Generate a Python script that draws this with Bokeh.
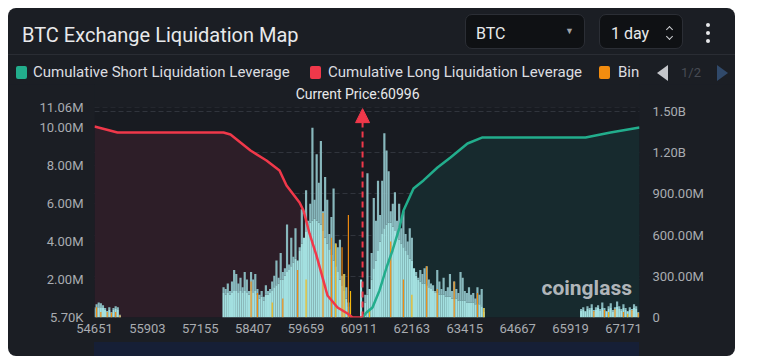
from bokeh.plotting import figure
from bokeh.models import (Range1d, LinearAxis, FixedTicker, Grid, Label, BoxAnnotation,
                          Arrow, NormalHead, ColumnDataSource, Div)
from bokeh.layouts import column
from bokeh.embed import file_html
from bokeh.resources import INLINE

# ---------------- data ----------------
current_price = 60996
x_ticks = [54651, 55903, 57155, 58407, 59659, 60911, 62163, 63415, 64667, 65919, 67171]
x_start, x_end = 54651, 67551
first_bin = 54651
bin_size = 50.08

left_ticks = [0.0057, 2, 4, 6, 8, 10, 11.06]            # millions
left_labels = ["5.70K", "2.00M", "4.00M", "6.00M", "8.00M", "10.00M", "11.06M"]
right_ticks = [0, 0.3, 0.6, 0.9, 1.2, 1.5]               # billions
right_labels = ["0", "300.00M", "600.00M", "900.00M", "1.20B", "1.50B"]
left_max, right_max = 11.06, 1.529

legend_labels = ["Cumulative Short Liquidation Leverage", "Cumulative Long Liquidation Leverage", "Bin"]

# liquidation leverage per price bin (millions): total and lower (cyan) part
seg_a_start = 0
seg_a_total = [0.55, 0.70, 0.80, 0.75, 0.65, 0.50, 0.35, 0.55, 0.30, 0.50, 0.60, 0.55, 0.15]
seg_a_base = [0.45, 0.50, 0.55, 0.55, 0.50, 0.40, 0.30, 0.40, 0.25, 0.40, 0.45, 0.40, 0.10]

seg_b_start = 61
seg_b_total = [1.6, 1.5, 1.8, 1.4, 1.9, 2.5, 2.3, 1.8, 2.1, 1.6,
               2.4, 2.0, 1.4, 2.4, 2.0, 2.3, 1.5, 1.2, 1.4, 1.1,
               1.7, 1.4, 1.5, 1.9, 2.2, 3.0, 2.1, 3.4, 2.4, 2.6,
               4.9, 2.8, 4.2, 3.2, 4.7, 3.0, 3.7, 5.7, 4.2, 6.7,
               5.1, 6.0, 10.0, 6.2, 8.6, 7.1, 9.3, 5.6, 7.4, 6.2,
               4.4, 5.3, 6.8, 3.9, 3.7, 4.1, 2.2, 2.3, 1.6, 0.8,
               0.0, 0.0, 0.0, 0.0, 0.0, 2.0]
seg_b_base = [1.3, 1.2, 1.3, 1.2, 1.3, 1.4, 1.4, 1.3, 1.4, 1.3,
              1.4, 1.3, 1.2, 1.4, 1.3, 1.4, 1.2, 1.0, 1.1, 0.9,
              1.2, 1.2, 1.3, 1.4, 1.6, 1.7, 1.8, 2.0, 2.0, 2.2,
              2.4, 2.5, 2.7, 2.9, 3.1, 3.0, 3.5, 3.9, 4.2, 4.5,
              4.8, 5.0, 5.1, 5.2, 5.1, 5.0, 4.9, 4.6, 4.2, 3.9,
              3.6, 3.3, 3.0, 2.7, 2.4, 2.0, 1.7, 1.4, 1.0, 0.6,
              0.0, 0.0, 0.0, 0.0, 0.0, 2.0]

seg_c_start = 128
seg_c_total = [1.2, 7.6, 1.5, 3.4, 6.3, 5.1, 7.2, 5.4, 7.2, 9.7,
               8.8, 7.7, 5.6, 6.0, 6.6, 5.1, 6.0, 4.7, 5.6, 4.4,
               4.0, 4.7, 4.2, 2.6, 2.4, 2.1, 2.5, 2.3, 2.6, 2.7,
               2.0, 1.8, 1.7, 1.4, 2.5, 1.9, 1.5, 2.1, 1.4, 1.6,
               2.3, 1.4, 1.9, 1.5, 1.3, 2.4, 2.1, 1.4, 1.3, 1.6,
               1.2, 1.3, 1.0, 1.6, 1.2, 1.5, 0.5]
seg_c_base = [0.8, 1.2, 1.5, 2.0, 2.6, 3.0, 3.5, 4.0, 4.4, 4.7,
              4.9, 5.0, 5.0, 4.8, 4.6, 4.3, 4.1, 3.9, 3.7, 3.5,
              3.3, 3.1, 3.0, 2.6, 2.2, 2.0, 1.9, 1.8, 1.8, 1.7,
              1.6, 1.5, 1.4, 1.3, 1.3, 1.2, 1.2, 1.2, 1.1, 1.1,
              1.1, 1.0, 1.0, 1.0, 0.9, 0.9, 0.9, 0.9, 0.8, 0.8,
              0.8, 0.8, 0.7, 0.7, 0.7, 0.6, 0.3]

seg_d_start = 230
seg_d_total = [0.45, 0.55, 0.35, 0.60, 0.50, 0.70, 0.40, 0.55, 0.65, 0.45,
               0.80, 0.50, 0.35, 0.60, 0.75, 0.40, 0.55, 0.85, 0.60, 0.45,
               0.70, 0.50, 0.35, 0.55, 0.45, 0.70, 0.60, 0.30]
seg_d_base = [0.35, 0.40, 0.30, 0.45, 0.40, 0.50, 0.30, 0.40, 0.50, 0.35,
              0.55, 0.40, 0.30, 0.45, 0.50, 0.30, 0.40, 0.60, 0.45, 0.35,
              0.50, 0.40, 0.30, 0.40, 0.35, 0.50, 0.45, 0.25]

binance_bins = [1, 3, 6, 8, 10, 12, 74, 77, 89, 96, 108, 112, 117, 120,
                140, 146, 157, 162, 170, 181, 236, 241, 246, 250, 254, 257]
binance_vals = [0.55, 0.30, 0.30, 0.25, 0.30, 0.12, 1.9, 1.3, 1.0, 2.5, 5.5, 4.2, 3.7, 5.4,
                4.0, 2.0, 2.7, 1.5, 1.9, 1.3, 0.35, 0.40, 0.45, 0.30, 0.40, 0.25]
okx_bins = [84, 100, 114, 118, 121, 130, 150, 184, 243, 252]
okx_vals = [0.8, 2.0, 3.9, 2.3, 1.4, 0.4, 1.2, 0.5, 0.3, 0.2]

# cumulative leverage (billions)
long_px = [54651, 55195, 57704, 57870, 58343, 58722, 59030, 59196, 59504, 59598,
           59740, 59906, 60024, 60166, 60403, 60640, 60758, 60996]
long_cum = [1.391, 1.347, 1.347, 1.333, 1.216, 1.143, 1.070, 0.961, 0.837, 0.779,
            0.612, 0.451, 0.320, 0.160, 0.073, 0.029, 0.0, 0.0]
short_px = [60996, 61089, 61231, 61397, 61563, 61705, 61870, 61965, 62202, 62438,
            62770, 63077, 63480, 63835, 66273, 66865, 67551]
short_cum = [0.0, 0.036, 0.073, 0.197, 0.364, 0.488, 0.655, 0.779, 0.939, 0.998,
             1.092, 1.165, 1.267, 1.311, 1.311, 1.347, 1.383]

# ---------------- styling ----------------
FONT = "Roboto"
CARD = "#1b1e24"
PLOT_BG = "#181b21"
GRID = "#30343c"
AX_TXT = "#a9acb1"
RED = "#f0384a"
GREEN = "#22ad8c"
ORANGE = "#f28c0f"
YELLOW = "#f5b80f"
CYAN = "#a3e0e0"
SLATE = "#88b8bd"

W = 727
FRAME_H, TOP_PAD = 210, 23      # data area height, headroom (px) for the price label

xs, tops, bases = [], [], []
for start, tot, base in [(seg_a_start, seg_a_total, seg_a_base), (seg_b_start, seg_b_total, seg_b_base),
                         (seg_c_start, seg_c_total, seg_c_base), (seg_d_start, seg_d_total, seg_d_base)]:
    for k, (t, b) in enumerate(zip(tot, base)):
        xs.append(first_bin + (start + k) * bin_size)
        tops.append(t)
        bases.append(b)
bars = ColumnDataSource(dict(x=xs, top=tops, base=bases))
bn = ColumnDataSource(dict(x=[first_bin + b * bin_size for b in binance_bins], top=binance_vals))
ok = ColumnDataSource(dict(x=[first_bin + b * bin_size for b in okx_bins], top=okx_vals))

y0 = left_ticks[0]
left_end = left_max + TOP_PAD * (left_max - y0) / FRAME_H
right_end = right_max + TOP_PAD * right_max / FRAME_H

p = figure(width=W, height=FRAME_H + TOP_PAD + 25, output_backend="svg", toolbar_location=None,
           x_range=Range1d(x_start, x_end), y_range=Range1d(y0, left_end),
           min_border_left=86, min_border_right=96, min_border_top=0, min_border_bottom=25,
           background_fill_color=CARD, border_fill_color=CARD, outline_line_color=None)
p.extra_y_ranges = {"cum": Range1d(0, right_end)}

p.add_layout(BoxAnnotation(top=left_max, fill_color=PLOT_BG, fill_alpha=1, line_color=None, level="underlay"))

# fills
p.varea(x=long_px, y1=0, y2=long_cum, y_range_name="cum", fill_color="#2d1e28")
p.varea(x=short_px, y1=0, y2=short_cum, y_range_name="cum", fill_color="#172a2e")

# bars
p.vbar(x="x", top="top", bottom="base", width=bin_size * 1.03, source=bars, fill_color=SLATE, line_color=None)
p.vbar(x="x", top="base", bottom=0, width=bin_size * 1.03, source=bars, fill_color=CYAN, line_color=None)
p.vbar(x="x", top="top", width=bin_size * 0.55, source=bn, fill_color=ORANGE, line_color=None)
p.vbar(x="x", top="top", width=bin_size * 0.55, source=ok, fill_color=YELLOW, line_color=None)

# cumulative lines
p.line(long_px, long_cum, y_range_name="cum", line_color=RED, line_width=2.5)
p.line(short_px, short_cum, y_range_name="cum", line_color=GREEN, line_width=2.5)

# current price arrow + label
p.add_layout(Arrow(end=NormalHead(size=14, fill_color=RED, line_color=RED),
                   x_start=current_price, y_start=y0, x_end=current_price, y_end=11.0,
                   line_color=RED, line_width=2, line_dash="6 4"))
p.add_layout(Label(x=current_price, x_offset=-5, y=FRAME_H + 14, y_units="screen",
                   text=f"Current Price:{current_price}",
                   text_align="center", text_baseline="middle", text_font=FONT,
                   text_font_size="14px", text_color="#e8e9eb"))

# axes
p.xaxis.ticker = FixedTicker(ticks=x_ticks)
p.xaxis.major_label_overrides = {t: str(t) for t in x_ticks}
p.yaxis.ticker = FixedTicker(ticks=left_ticks)
p.yaxis.major_label_overrides = dict(zip(left_ticks, left_labels))
right = LinearAxis(y_range_name="cum", ticker=FixedTicker(ticks=right_ticks),
                   major_label_overrides=dict(zip(right_ticks, right_labels)))
p.add_layout(right, "right")
for ax, standoff in [(p.xaxis[0], 6), (p.yaxis[0], 11), (right, 13)]:
    ax.axis_line_color = None
    ax.major_tick_line_color = None
    ax.minor_tick_line_color = None
    ax.major_tick_out = 0
    ax.major_tick_in = 0
    ax.major_label_standoff = standoff
    ax.major_label_text_font = FONT
    ax.major_label_text_font_size = "13px"
    ax.major_label_text_color = AX_TXT

p.xgrid.grid_line_color = None
p.ygrid.ticker = FixedTicker(ticks=left_ticks)
p.ygrid.grid_line_color = GRID
p.ygrid.grid_line_dash = "5 3"
g2 = Grid(dimension=1, ticker=FixedTicker(ticks=right_ticks), y_range_name="cum",
          grid_line_color=GRID, grid_line_dash="5 3")
p.add_layout(g2)

# watermark
p.add_layout(Label(x=447, y=30, x_units="screen", y_units="screen", text="coinglass",
                   text_baseline="middle", text_font=FONT, text_font_style="bold",
                   text_font_size="21px", text_color="#c6c9cd", text_alpha=0.9))

# header
chev = ("position:absolute;width:5px;height:5px;border-left:1.5px solid #cfd1d4;"
        "border-top:1.5px solid #cfd1d4;")
header = Div(width=W, height=48, margin=0, text=f"""
<div style="position:relative;width:{W}px;height:47px;border-bottom:1px solid #2a2d34;font-family:Roboto;">
  <div style="position:absolute;left:14px;top:13px;font-size:20px;color:#e8e9eb;">BTC Exchange Liquidation Map</div>
  <div style="position:absolute;left:457px;top:6px;width:120px;height:35px;border:1px solid #2b2e35;border-radius:7px;background:#0f1114;">
    <span style="position:absolute;left:10px;top:8px;font-size:16px;color:#e8e9eb;">BTC</span>
    <span style="position:absolute;left:99px;top:10px;font-size:9px;color:#9fa2a7;">&#9660;</span>
  </div>
  <div style="position:absolute;left:591px;top:6px;width:84px;height:35px;border:1px solid #2b2e35;border-radius:7px;background:#0f1114;">
    <span style="position:absolute;left:11px;top:8px;font-size:16px;color:#e8e9eb;">1 day</span>
    <div style="{chev}left:67px;top:12px;transform:rotate(45deg);"></div>
    <div style="{chev}left:67px;top:19px;transform:rotate(225deg);"></div>
  </div>
  <div style="position:absolute;left:698px;top:15px;width:4px;height:4px;border-radius:2px;background:#e8e9eb;"></div>
  <div style="position:absolute;left:698px;top:23px;width:4px;height:4px;border-radius:2px;background:#e8e9eb;"></div>
  <div style="position:absolute;left:698px;top:31px;width:4px;height:4px;border-radius:2px;background:#e8e9eb;"></div>
</div>""")

# legend row (first legend page)
sq = "position:absolute;top:10px;width:11px;height:13px;border-radius:2px;"
tx = "position:absolute;top:7px;font-size:15px;line-height:18px;color:#dcdde0;white-space:nowrap;"
legend_row = Div(width=W, height=28, margin=0, text=f"""
<div style="position:relative;width:{W}px;height:28px;font-family:Roboto;">
  <div style="{sq}left:8px;background:{GREEN};"></div>
  <div style="{tx}left:25px;">{legend_labels[0]}</div>
  <div style="{sq}left:302px;background:{RED};"></div>
  <div style="{tx}left:320px;">{legend_labels[1]}</div>
  <div style="{sq}left:591px;background:{ORANGE};"></div>
  <div style="{tx}left:610px;">{legend_labels[2]}</div>
  <div style="position:absolute;left:649px;top:9px;width:0;height:0;border-top:8px solid transparent;border-bottom:8px solid transparent;border-right:11px solid #c4c6ca;"></div>
  <div style="position:absolute;left:673px;top:8px;font-size:13px;color:#474b53;">1/2</div>
  <div style="position:absolute;left:709px;top:9px;width:0;height:0;border-top:8px solid transparent;border-bottom:8px solid transparent;border-left:11px solid #30496a;"></div>
</div>""")

strip = Div(width=545, height=14, margin=(0, 0, 0, 86), text="",
            styles={"background-color": "#161f36"})

layout = column(header, legend_row, p, strip, margin=(8, 0, 0, 8),
                styles={"background-color": CARD, "border-radius": "8px"})

html = file_html(layout, INLINE)
html = html.replace("<body>", '<body style="background-color:#000000;">', 1)
open("out.html", "w").write(html)
